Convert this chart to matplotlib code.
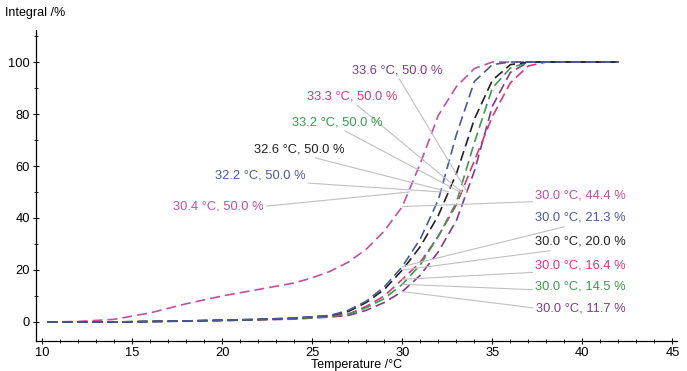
import numpy as np
import matplotlib
matplotlib.use('Agg')
import matplotlib.pyplot as plt
import matplotlib.ticker as ticker

plt.rcParams['font.family'] = ['Liberation Sans', 'DejaVu Sans']

# temperature grid (°C)
temp = [10.3, 12, 14, 16, 18, 20, 22, 24, 25, 26, 27, 28, 29, 30, 31, 32, 33, 34, 35, 36, 37, 38, 42]

# integral curves (%)
curve_304 = [0, 0.2, 1, 3.5, 7, 10, 12.5, 15, 17, 19.5, 23, 28, 35, 44.4, 61, 79.5, 90.5, 97.5, 100, 100, 100, 100, 100]
curve_322 = [0, 0, 0, 0.2, 0.4, 0.7, 1, 1.5, 2, 2.5, 4.5, 8, 13.5, 21.3, 32, 47, 72, 92.5, 99, 100, 100, 100, 100]
curve_326 = [0, 0, 0, 0.2, 0.4, 0.7, 1, 1.5, 2, 2.5, 4, 7.5, 12.5, 20, 29, 41, 57, 78, 93, 99, 100, 100, 100]
curve_332 = [0, 0, 0, 0.2, 0.4, 0.6, 0.9, 1.3, 1.7, 2.2, 3, 5.5, 9, 14.5, 22, 33, 46, 69, 90, 97.7, 100, 100, 100]
curve_333 = [0, 0, 0, 0.2, 0.4, 0.6, 0.9, 1.3, 1.7, 2.2, 3, 6, 10, 16.4, 23, 33, 45, 62, 79, 92, 98.5, 100, 100]
curve_336 = [0, 0, 0, 0.1, 0.3, 0.5, 0.8, 1.1, 1.5, 1.9, 2.5, 4.5, 7.5, 11.7, 18, 27, 39, 58, 83, 96, 100, 100, 100]

colors = {'304': '#c050a0', '322': '#4c5a9c', '326': '#222222',
          '332': '#3a9a50', '333': '#d8377c', '336': '#7e3c84'}
curves = {'304': curve_304, '322': curve_322, '326': curve_326,
          '332': curve_332, '333': curve_333, '336': curve_336}

# annotations: 50 % points and values at 30 °C
half_points = {'336': 33.6, '333': 33.3, '332': 33.2, '326': 32.6, '322': 32.2, '304': 30.4}
half_text_pos = {'336': (29.7, 96.9), '333': (27.2, 86.9), '332': (26.4, 76.9),
                 '326': (24.3, 66.5), '322': (22.1, 56.5), '304': (19.8, 44.6)}
at30_values = {'304': 44.4, '322': 21.3, '326': 20.0, '333': 16.4, '332': 14.5, '336': 11.7}
at30_text_y = {'304': 48.8, '322': 40.0, '326': 30.8, '333': 21.9, '332': 13.5, '336': 5.0}

fig = plt.figure(figsize=(6.87, 3.71), dpi=100)
ax = fig.add_axes([0.0524, 0.081, 0.933, 0.838])

for key in ['304', '336', '333', '332', '326', '322']:
    ax.plot(temp, curves[key], color=colors[key], lw=1.2, dashes=(6, 3))

line_kw = dict(arrowstyle='-', color='#c0c0c0', lw=0.8, shrinkA=0, shrinkB=0, relpos=(0.5, 0.1))
for key, tx in half_points.items():
    ax.annotate(f'{tx:.1f} °C, 50.0 %', xy=(tx, 50), xytext=half_text_pos[key],
                ha='center', va='center', fontsize=9.3, color=colors[key],
                arrowprops=line_kw)
for key, val in at30_values.items():
    ax.annotate(f'30.0 °C, {val:.1f} %', xy=(30, val), xytext=(39.9, at30_text_y[key]),
                ha='center', va='center', fontsize=9.3, color=colors[key],
                arrowprops=line_kw)

ax.set_xlim(9.66, 45.25)
ax.set_ylim(-7.3, 112.3)
ax.xaxis.set_major_locator(ticker.MultipleLocator(5))
ax.xaxis.set_minor_locator(ticker.MultipleLocator(1))
ax.yaxis.set_major_locator(ticker.FixedLocator([0, 20, 40, 60, 80, 100]))
ax.yaxis.set_minor_locator(ticker.FixedLocator([-10, 10, 30, 50, 70, 90, 110]))
ax.tick_params(which='major', direction='inout', length=5, width=0.8, labelsize=9.3, pad=2)
ax.tick_params(which='minor', direction='inout', length=3, width=0.6)
for side in ['top', 'right']:
    ax.spines[side].set_visible(False)
for side in ['left', 'bottom']:
    ax.spines[side].set_linewidth(0.9)

fig.text(0.008, 0.965, 'Integral /%', fontsize=9, va='center', ha='left')
ax.set_xlabel('Temperature /°C', fontsize=9, labelpad=0)

plt.savefig('out.png', dpi=100)
